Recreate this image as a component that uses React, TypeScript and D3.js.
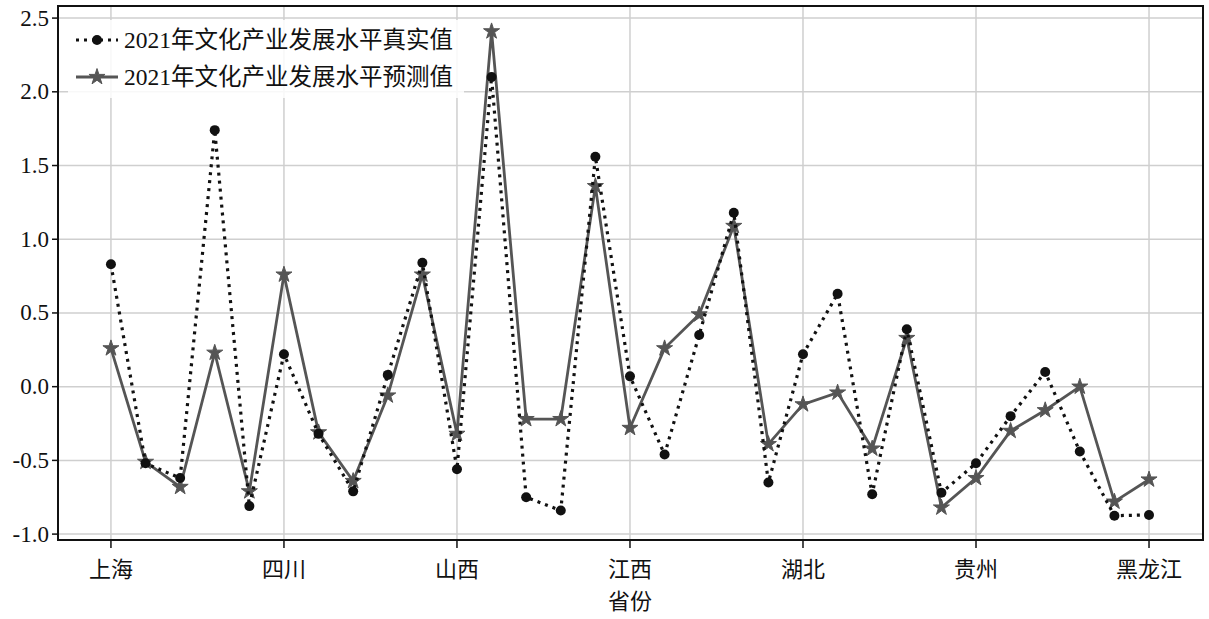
import React from "react";
import * as d3 from "d3";

const tickIndex = [0, 5, 10, 15, 20, 25, 30];
const tickLabels = ["上海", "四川", "山西", "江西", "湖北", "贵州", "黑龙江"];
const yTicks = [-1.0, -0.5, 0.0, 0.5, 1.0, 1.5, 2.0, 2.5];

const actual = [
  0.83, -0.52, -0.62, 1.74, -0.81, 0.22, -0.32, -0.71, 0.08, 0.84,
  -0.56, 2.1, -0.75, -0.84, 1.56, 0.07, -0.46, 0.35, 1.18, -0.65,
  0.22, 0.63, -0.73, 0.39, -0.72, -0.52, -0.2, 0.1, -0.44, -0.875, -0.87,
];
const predicted = [
  0.26, -0.51, -0.68, 0.23, -0.71, 0.76, -0.31, -0.64, -0.06, 0.76,
  -0.32, 2.41, -0.22, -0.22, 1.36, -0.28, 0.26, 0.49, 1.09, -0.39,
  -0.12, -0.04, -0.42, 0.33, -0.82, -0.62, -0.3, -0.16, 0.0, -0.78, -0.63,
];
const seriesNames = ["2021年文化产业发展水平真实值", "2021年文化产业发展水平预测值"];
const xTitle = "省份";

const W = 1209;
const H = 619;
const L = 58, R = 1203, T = 6, B = 540;
const FONT = "'Liberation Serif', 'Noto Sans CJK SC', serif";

export default function App() {
  const x = d3.scaleLinear().domain([-1.53, 31.56]).range([L, R]);
  const y = d3.scaleLinear().domain([-1.04, 2.582]).range([B, T]);
  const line = d3
    .line<number>()
    .x((_, i) => x(i))
    .y((d) => y(d));
  const star = d3.symbol().type(d3.symbolStar).size(80)() as string;

  return (
    <div style={{ position: "absolute", left: 0, top: 0 }}>
      <svg width={W} height={H} style={{ display: "block", background: "#fff" }}>
        {/* grid */}
        <g stroke="#cfcfcf" strokeWidth={1.5}>
          {yTicks.map((t) => (
            <line key={"gy" + t} x1={L} x2={R} y1={y(t)} y2={y(t)} />
          ))}
          {tickIndex.map((t) => (
            <line key={"gx" + t} x1={x(t)} x2={x(t)} y1={T} y2={B} />
          ))}
        </g>
        {/* frame */}
        <rect x={L} y={T} width={R - L} height={B - T} fill="none" stroke="#111" strokeWidth={2} />
        {/* y ticks */}
        <g>
          {yTicks.map((t) => (
            <g key={"ty" + t}>
              <line x1={L - 6} x2={L} y1={y(t)} y2={y(t)} stroke="#111" strokeWidth={1.5} />
              <text
                x={L - 9}
                y={y(t)}
                textAnchor="end"
                dominantBaseline="central"
                fontFamily={FONT}
                fontSize={23}
                fill="#111"
              >
                {t.toFixed(1)}
              </text>
            </g>
          ))}
        </g>
        {/* x ticks */}
        <g>
          {tickIndex.map((t, i) => (
            <g key={"tx" + t}>
              <line x1={x(t)} x2={x(t)} y1={B} y2={B + 8} stroke="#111" strokeWidth={1.5} />
              <text
                x={x(t)}
                y={577}
                textAnchor="middle"
                fontFamily={FONT}
                fontSize={22}
                fill="#111"
              >
                {tickLabels[i]}
              </text>
            </g>
          ))}
          <text x={x(15)} y={609} textAnchor="middle" fontFamily={FONT} fontSize={22} fill="#111">
            {xTitle}
          </text>
        </g>
        {/* predicted series */}
        <path d={line(predicted) as string} fill="none" stroke="#555" strokeWidth={2.8} />
        {predicted.map((v, i) => (
          <path key={"s" + i} d={star} transform={`translate(${x(i)},${y(v)})`} fill="#555" stroke="#555" strokeWidth={1} />
        ))}
        {/* actual series */}
        <path
          d={line(actual) as string}
          fill="none"
          stroke="#111"
          strokeWidth={3.2}
          strokeDasharray="3,5"
        />
        {actual.map((v, i) => (
          <circle key={"c" + i} cx={x(i)} cy={y(v)} r={5} fill="#111" />
        ))}
        {/* legend */}
        <g>
          <rect x={68} y={20} width={396} height={78} fill="#fff" opacity={0.85} />
          <line x1={76} x2={118} y1={40} y2={40} stroke="#111" strokeWidth={3.2} strokeDasharray="3,5" />
          <circle cx={97} cy={40} r={5} fill="#111" />
          <text x={124} y={40} dominantBaseline="central" fontFamily={FONT} fontSize={23.5} fill="#111">
            {seriesNames[0]}
          </text>
          <line x1={76} x2={118} y1={77} y2={77} stroke="#555" strokeWidth={2.8} />
          <path d={star} transform="translate(97,77)" fill="#555" stroke="#555" strokeWidth={1} />
          <text x={124} y={77} dominantBaseline="central" fontFamily={FONT} fontSize={23.5} fill="#111">
            {seriesNames[1]}
          </text>
        </g>
      </svg>
    </div>
  );
}
